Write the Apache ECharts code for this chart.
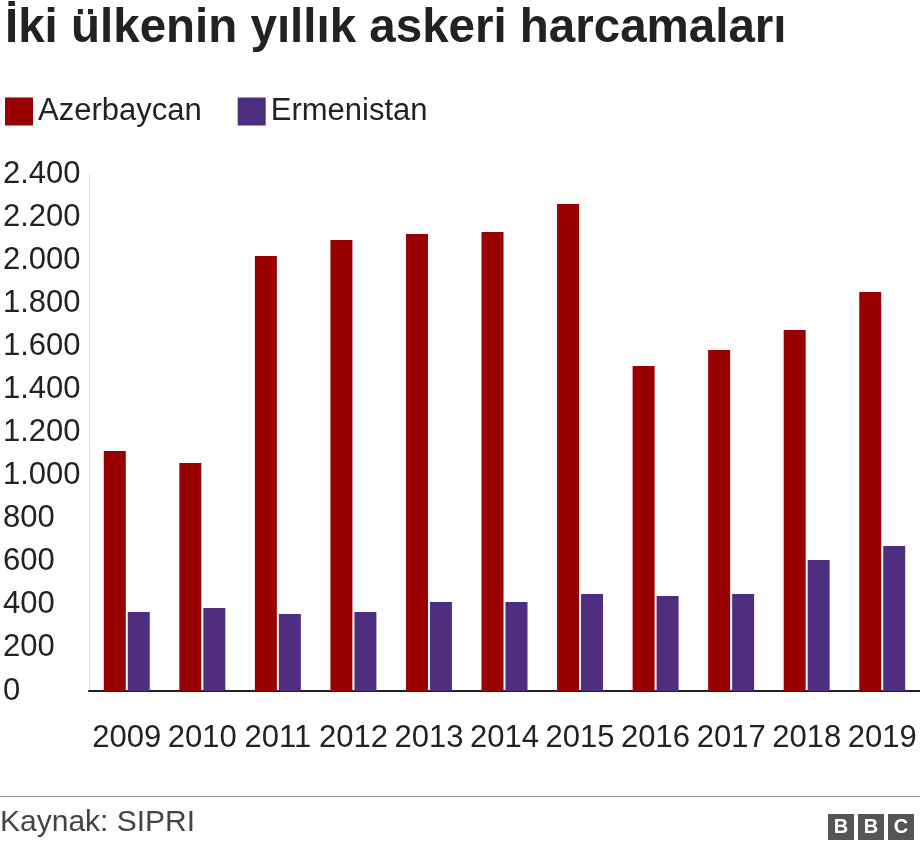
<!DOCTYPE html>
<html>
<head>
<meta charset="utf-8">
<script src="https://cdn.jsdelivr.net/npm/echarts@6/dist/echarts.min.js"></script>
<style>
  html, body { margin: 0; padding: 0; background: #fff; }
  #chart { width: 920px; height: 852px; }
</style>
</head>
<body>
<div id="chart"></div>
<script>
// yıllar ve harcamalar (milyon $)
const years = ['2009', '2010', '2011', '2012', '2013', '2014', '2015', '2016', '2017', '2018', '2019'];
const azerbaycan = [1114, 1058, 2019, 2094, 2121, 2131, 2261, 1509, 1583, 1676, 1852];
const ermenistan = [367, 385, 357, 367, 413, 413, 450, 441, 450, 608, 673];
const yTicks = [0, 200, 400, 600, 800, 1000, 1200, 1400, 1600, 1800, 2000, 2200, 2400];

const chart = echarts.init(document.getElementById('chart'));
const font = 'Liberation Sans, Arial, sans-serif';

const option = {
    animation: false,
    textStyle: { fontFamily: font },
    title: {
        text: 'İki ülkenin yıllık askeri harcamaları',
        left: 0,
        top: 0,
        textStyle: { fontSize: 47.5, fontWeight: 'bold', color: '#222', fontFamily: font }
    },
    legend: {
        data: ['Azerbaycan', 'Ermenistan'],
        left: 0,
        top: 91,
        itemWidth: 28,
        itemHeight: 28,
        itemGap: 36,
        icon: 'rect',
        textStyle: { fontSize: 31, color: '#222', fontFamily: font }
    },
    grid: { left: 89, right: -5, top: 174, bottom: 161 },
    xAxis: {
        type: 'category',
        data: years,
        axisTick: { show: false },
        axisLine: { lineStyle: { color: '#222', width: 2 } },
        axisLabel: { fontSize: 31, color: '#222', margin: 32, fontFamily: font, interval: 0 }
    },
    yAxis: {
        type: 'value',
        min: 0,
        max: 2400,
        interval: 200,
        axisLine: { show: true, lineStyle: { color: '#ddd' } },
        splitLine: { show: false },
        axisLabel: {
            fontSize: 31,
            color: '#222',
            align: 'left',
            margin: 86,
            fontFamily: font,
            formatter: v => yTicks.includes(v) ? String(v).replace(/\B(?=(\d{3})+(?!\d))/g, '.') : ''
        }
    },
    series: [
        {
            name: 'Azerbaycan',
            type: 'bar',
            data: azerbaycan,
            barWidth: 22,
            barGap: '9%',
            itemStyle: { color: '#990000' }
        },
        {
            name: 'Ermenistan',
            type: 'bar',
            data: ermenistan,
            barWidth: 22,
            itemStyle: { color: '#4f2d7f' }
        }
    ],
    graphic: [
        { type: 'rect', shape: { x: 0, y: 796, width: 920, height: 1 }, style: { fill: '#999' } },
        { type: 'text', left: 0, top: 808, style: { text: 'Kaynak: SIPRI', fontSize: 30, fill: '#444', fontFamily: font } },
        { type: 'group', left: 828, top: 814, children: [
            { type: 'rect', shape: { x: 0, y: 0, width: 26, height: 26 }, style: { fill: '#555' } },
            { type: 'text', style: { x: 13, y: 13, text: 'B', align: 'center', verticalAlign: 'middle', fontSize: 20, fontWeight: 'bold', fill: '#fff', fontFamily: font } },
            { type: 'rect', shape: { x: 30, y: 0, width: 26, height: 26 }, style: { fill: '#555' } },
            { type: 'text', style: { x: 43, y: 13, text: 'B', align: 'center', verticalAlign: 'middle', fontSize: 20, fontWeight: 'bold', fill: '#fff', fontFamily: font } },
            { type: 'rect', shape: { x: 60, y: 0, width: 26, height: 26 }, style: { fill: '#555' } },
            { type: 'text', style: { x: 73, y: 13, text: 'C', align: 'center', verticalAlign: 'middle', fontSize: 20, fontWeight: 'bold', fill: '#fff', fontFamily: font } }
        ] }
    ]
};

chart.setOption(option);
</script>
</body>
</html>
